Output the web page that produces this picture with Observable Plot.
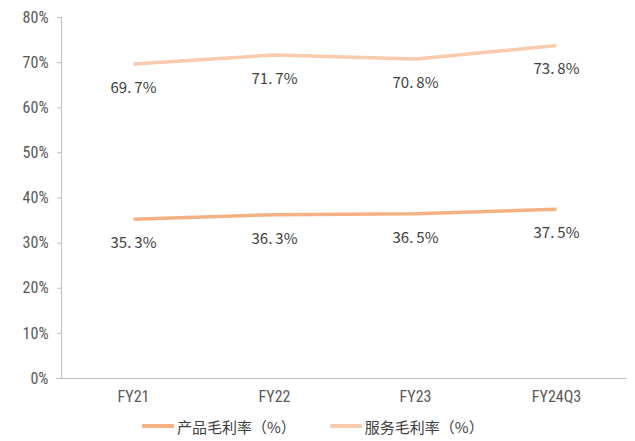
<!DOCTYPE html>
<html>
<head>
<meta charset="utf-8">
<script src="https://cdn.jsdelivr.net/npm/d3@7"></script>
<script src="https://cdn.jsdelivr.net/npm/@observablehq/plot@0.6"></script>
<style>
  html, body { margin: 0; padding: 0; background: #fff; }
  #chart { width: 635px; }
  .legend {
    display: flex; align-items: center; height: 30px;
    font-family: "Noto Sans CJK SC", sans-serif; font-size: 15px; color: #404040;
    padding-left: 142px; box-sizing: border-box;
  }
  .legend .item { display: flex; align-items: center; margin-right: 34px; }
  .legend .swatch { width: 32px; height: 4px; margin-right: 3px; border-radius: 1px; }
</style>
</head>
<body>
<div id="chart"></div>
<script>
// Gross margin by fiscal period (%)
const periods = ["FY21", "FY22", "FY23", "FY24Q3"];
const productMargin = [35.3, 36.3, 36.5, 37.5];
const serviceMargin = [69.7, 71.7, 70.8, 73.8];
const seriesNames = ["产品毛利率（%）", "服务毛利率（%）"];
const seriesColors = ["#F4B183", "#F8CBAD"];
const yTicks = [0, 10, 20, 30, 40, 50, 60, 70, 80];

const rows = [
  ...periods.map((p, i) => ({period: p, value: productMargin[i], series: seriesNames[0]})),
  ...periods.map((p, i) => ({period: p, value: serviceMargin[i], series: seriesNames[1]}))
];

const fmt = v => v.toFixed(1).replace(".", ".\u2009") + "%";

const plot = Plot.plot({
  width: 635,
  height: 411,
  marginTop: 17,
  marginBottom: 33,
  marginLeft: 62,
  marginRight: 8,
  style: {fontFamily: "'Liberation Sans Narrow', 'Roboto Condensed', Roboto, sans-serif", fontSize: "16px", color: "#595959"},
  x: {type: "point", domain: periods, padding: 0.5, label: null},
  y: {domain: [0, 80], label: null},
  color: {domain: seriesNames, range: seriesColors},
  marks: [
    Plot.axisY({ticks: yTicks, tickFormat: d => d + "%", tickSize: 5, tickPadding: 9, stroke: "#bfbfbf", fill: "#595959"}),
    Plot.axisX({tickSize: 0, tickPadding: 12, fill: "#595959"}),
    Plot.line(rows, {x: "period", y: "value", z: "series", stroke: "series", strokeWidth: 3.5, strokeLinecap: "butt"}),
    Plot.text(rows, {x: "period", y: "value", text: d => fmt(d.value), dy: 24,
      fill: "#404040", fontSize: 15, fontFamily: "'Noto Sans CJK SC', sans-serif"})
  ]
});

// axis lines: vertical at the left frame edge, baseline extended under the tick marks
const svg = d3.select(plot);
svg.append("line")
  .attr("x1", 61.5).attr("x2", 61.5)
  .attr("y1", 17).attr("y2", 378)
  .attr("stroke", "#bfbfbf");
svg.append("line")
  .attr("x1", 56).attr("x2", 627)
  .attr("y1", 378.5).attr("y2", 378.5)
  .attr("stroke", "#bfbfbf");

document.getElementById("chart").appendChild(plot);

const legend = document.createElement("div");
legend.className = "legend";
seriesNames.forEach((name, i) => {
  const item = document.createElement("div");
  item.className = "item";
  const sw = document.createElement("span");
  sw.className = "swatch";
  sw.style.background = seriesColors[i];
  const label = document.createElement("span");
  label.textContent = name;
  item.appendChild(sw);
  item.appendChild(label);
  legend.appendChild(item);
});
document.getElementById("chart").appendChild(legend);
</script>
</body>
</html>
